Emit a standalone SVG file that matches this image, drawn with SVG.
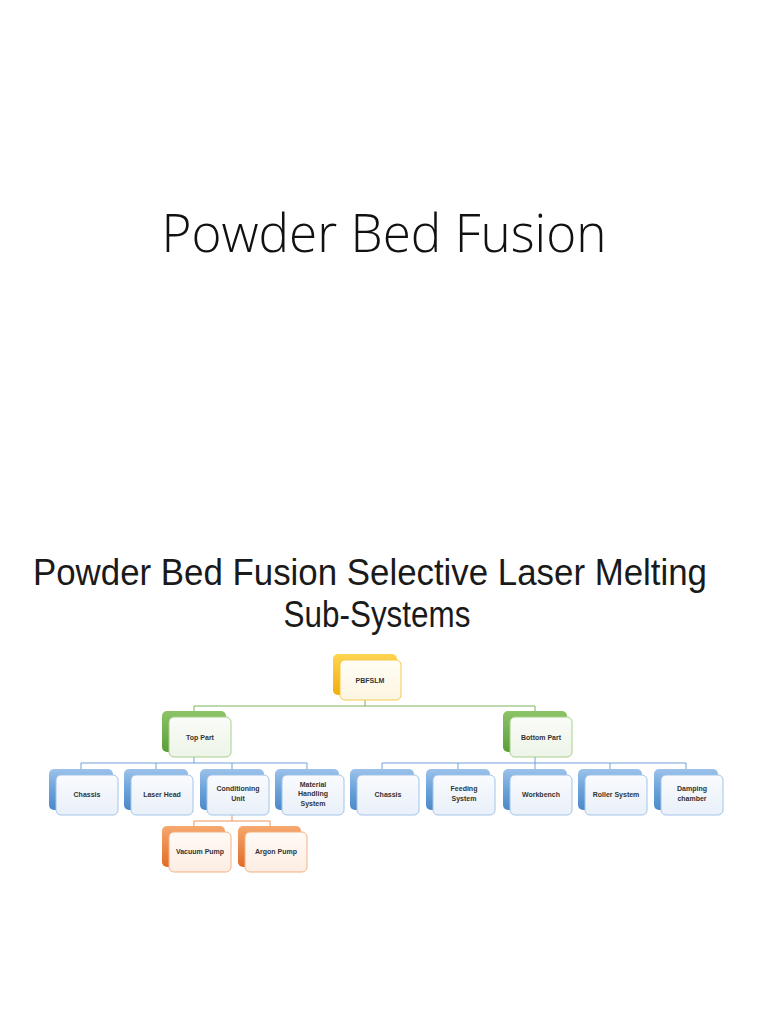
<svg xmlns="http://www.w3.org/2000/svg" width="768" height="1024" viewBox="0 0 768 1024">
<defs>
<linearGradient id="gY" x1="0" y1="0" x2="0" y2="1"><stop offset="0" stop-color="#FFD451"/><stop offset="1" stop-color="#EFAE0C"/></linearGradient>
<linearGradient id="gG" x1="0" y1="0" x2="0" y2="1"><stop offset="0" stop-color="#8CC467"/><stop offset="1" stop-color="#5A9E38"/></linearGradient>
<linearGradient id="gB" x1="0" y1="0" x2="0" y2="1"><stop offset="0" stop-color="#9CC2EA"/><stop offset="0.5" stop-color="#6BA3DA"/><stop offset="1" stop-color="#4C89C8"/></linearGradient>
<linearGradient id="gO" x1="0" y1="0" x2="0" y2="1"><stop offset="0" stop-color="#F6A86F"/><stop offset="1" stop-color="#E06C26"/></linearGradient>
<linearGradient id="fY" x1="0" y1="0" x2="0" y2="1"><stop offset="0" stop-color="#FFFDF6"/><stop offset="1" stop-color="#FCF5E2"/></linearGradient>
<linearGradient id="fG" x1="0" y1="0" x2="0" y2="1"><stop offset="0" stop-color="#FAFCF8"/><stop offset="1" stop-color="#EDF4E8"/></linearGradient>
<linearGradient id="fB" x1="0" y1="0" x2="0" y2="1"><stop offset="0" stop-color="#F9FBFE"/><stop offset="1" stop-color="#E9F0F9"/></linearGradient>
<linearGradient id="fO" x1="0" y1="0" x2="0" y2="1"><stop offset="0" stop-color="#FFFAF6"/><stop offset="1" stop-color="#FCEDE3"/></linearGradient>
</defs>
<style>
.title{font-family:"Open Sans","Liberation Sans",sans-serif;font-weight:300;fill:#111;text-anchor:middle}
.title2{font-family:"Liberation Sans","Open Sans",sans-serif;font-weight:normal;fill:#1a1a1a;text-anchor:middle}
.lbl{font-family:"Liberation Sans","DejaVu Sans",sans-serif;font-weight:bold;font-size:7px;fill:#333;text-anchor:middle}
.bY{fill:url(#gY)} .bG{fill:url(#gG)} .bB{fill:url(#gB)} .bO{fill:url(#gO)}
.fY{fill:url(#fY);stroke:#F5C94F;stroke-width:1}
.fG{fill:url(#fG);stroke:#A6CF8A;stroke-width:1}
.fB{fill:url(#fB);stroke:#A3C4E8;stroke-width:1}
.fO{fill:url(#fO);stroke:#F4B183;stroke-width:1}
.cG{stroke:#7DB45A;stroke-width:1;fill:none}
.cB{stroke:#6EA3D8;stroke-width:1;fill:none}
.cO{stroke:#EF9259;stroke-width:1;fill:none}
</style>
<rect width="768" height="1024" fill="#ffffff"/>
<text class="title" x="384" y="252" font-size="54" textLength="445" lengthAdjust="spacingAndGlyphs">Powder Bed Fusion</text>
<text class="title2" x="370" y="585" font-size="36" textLength="674" lengthAdjust="spacingAndGlyphs">Powder Bed Fusion Selective Laser Melting</text>
<text class="title2" x="377" y="627" font-size="36" textLength="187" lengthAdjust="spacingAndGlyphs">Sub-Systems</text>

<g id="connectors">
<path class="cG" d="M365 700V706M194 706H535M194 706V711M535 706V711"/>
<path class="cB" d="M194 757V763M81 763H307M81 763V769M156 763V769M232 763V769M307 763V769"/>
<path class="cB" d="M535 757V763M382 763H686M382 763V769M458 763V769M535 763V769M610 763V769M686 763V769"/>
<path class="cO" d="M232 815V821M194 821H270M194 821V826M270 821V826"/>
</g>

<g id="n-pbfslm"><rect class="bY" x="333" y="654" width="64" height="41" rx="5"/><rect class="fY" x="340" y="660" width="61" height="40" rx="5"/><text class="lbl" x="370" y="683">PBFSLM</text></g>

<g id="n-top"><rect class="bG" x="162" y="711" width="64" height="41" rx="5"/><rect class="fG" x="169" y="717" width="62" height="40" rx="5"/><text class="lbl" x="200" y="740">Top Part</text></g>
<g id="n-bottom"><rect class="bG" x="503" y="711" width="64" height="41" rx="5"/><rect class="fG" x="510" y="717" width="62" height="40" rx="5"/><text class="lbl" x="541" y="740">Bottom Part</text></g>

<g id="n-chassis1"><rect class="bB" x="49" y="769" width="64" height="41" rx="5"/><rect class="fB" x="56" y="775" width="62" height="40" rx="5"/><text class="lbl" x="87" y="797">Chassis</text></g>
<g id="n-laser"><rect class="bB" x="124" y="769" width="64" height="41" rx="5"/><rect class="fB" x="131" y="775" width="62" height="40" rx="5"/><text class="lbl" x="162" y="797">Laser Head</text></g>
<g id="n-cond"><rect class="bB" x="200" y="769" width="64" height="41" rx="5"/><rect class="fB" x="207" y="775" width="62" height="40" rx="5"/><text class="lbl" x="238" y="791">Conditioning</text><text class="lbl" x="238" y="800.5">Unit</text></g>
<g id="n-material"><rect class="bB" x="275" y="769" width="64" height="41" rx="5"/><rect class="fB" x="282" y="775" width="62" height="40" rx="5"/><text class="lbl" x="313" y="786.5">Material</text><text class="lbl" x="313" y="796">Handling</text><text class="lbl" x="313" y="805.5">System</text></g>

<g id="n-chassis2"><rect class="bB" x="350" y="769" width="64" height="41" rx="5"/><rect class="fB" x="357" y="775" width="62" height="40" rx="5"/><text class="lbl" x="388" y="797">Chassis</text></g>
<g id="n-feeding"><rect class="bB" x="426" y="769" width="64" height="41" rx="5"/><rect class="fB" x="433" y="775" width="62" height="40" rx="5"/><text class="lbl" x="464" y="791">Feeding</text><text class="lbl" x="464" y="800.5">System</text></g>
<g id="n-workbench"><rect class="bB" x="503" y="769" width="64" height="41" rx="5"/><rect class="fB" x="510" y="775" width="62" height="40" rx="5"/><text class="lbl" x="541" y="797">Workbench</text></g>
<g id="n-roller"><rect class="bB" x="578" y="769" width="64" height="41" rx="5"/><rect class="fB" x="585" y="775" width="62" height="40" rx="5"/><text class="lbl" x="616" y="797">Roller System</text></g>
<g id="n-damping"><rect class="bB" x="654" y="769" width="64" height="41" rx="5"/><rect class="fB" x="661" y="775" width="62" height="40" rx="5"/><text class="lbl" x="692" y="791">Damping</text><text class="lbl" x="692" y="800.5">chamber</text></g>

<g id="n-vacuum"><rect class="bO" x="162" y="826" width="63" height="41" rx="5"/><rect class="fO" x="169" y="832" width="62" height="40" rx="5"/><text class="lbl" x="200" y="854">Vacuum Pump</text></g>
<g id="n-argon"><rect class="bO" x="238" y="826" width="63" height="41" rx="5"/><rect class="fO" x="245" y="832" width="62" height="40" rx="5"/><text class="lbl" x="276" y="854">Argon Pump</text></g>
</svg>
